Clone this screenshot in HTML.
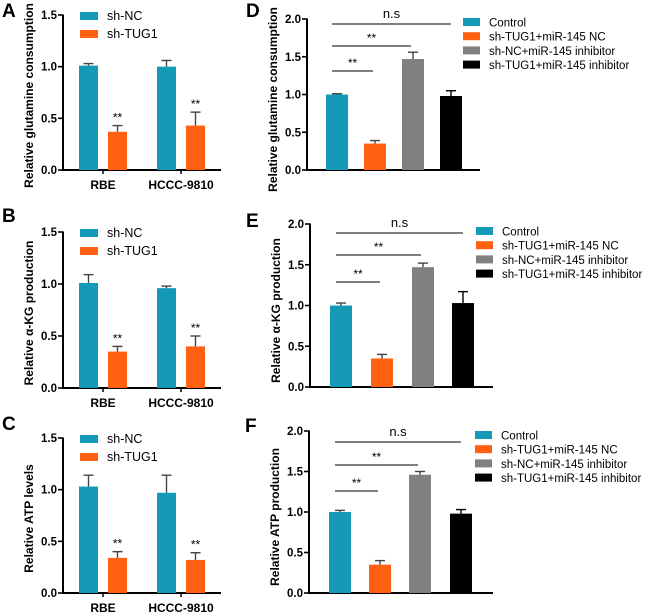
<!DOCTYPE html>
<html><head><meta charset="utf-8">
<style>
html,body{margin:0;padding:0;background:#fff;}
svg{display:block;font-family:"Liberation Sans",Arial,sans-serif;}
</style></head>
<body>
<svg id="fig" width="650" height="612" viewBox="0 0 650 612"></svg>
<script>
// ---- data ----
const leftCategories = ["RBE", "HCCC-9810"];
const leftSeries = ["sh-NC", "sh-TUG1"];
const aNC = [1.01, 1.00], aNCerr = [0.02, 0.06];
const aTUG = [0.37, 0.43], aTUGerr = [0.06, 0.13];
const bNC = [1.01, 0.96], bNCerr = [0.08, 0.02];
const bTUG = [0.35, 0.40], bTUGerr = [0.05, 0.10];
const cNC = [1.03, 0.97], cNCerr = [0.11, 0.17];
const cTUG = [0.34, 0.32], cTUGerr = [0.06, 0.07];
const leftTicks = ["0.0", "0.5", "1.0", "1.5"];
const rightGroups = ["Control", "sh-TUG1+miR-145 NC", "sh-NC+miR-145 inhibitor", "sh-TUG1+miR-145 inhibitor"];
const dVals = [1.00, 0.35, 1.47, 0.98], dErr = [0.01, 0.04, 0.09, 0.07];
const eVals = [1.00, 0.35, 1.47, 1.03], eErr = [0.03, 0.05, 0.05, 0.14];
const fVals = [1.00, 0.35, 1.46, 0.98], fErr = [0.02, 0.05, 0.04, 0.05];
const rightTicks = ["0.0", "0.5", "1.0", "1.5", "2.0"];
const sigLabels = ["**", "**", "n.s"];
const sigTargets = [1, 2, 3];

const NS = "http://www.w3.org/2000/svg";
const svg = document.getElementById("fig");
const TEAL = "#1499b6", ORANGE = "#ff6011", GRAY = "#808080", BLACK = "#000";
function el(tag, attrs, parent) {
  const e = document.createElementNS(NS, tag);
  for (const k in attrs) e.setAttribute(k, attrs[k]);
  (parent || svg).appendChild(e);
  return e;
}
function txt(s, attrs, parent) { const t = el("text", attrs, parent); t.textContent = s; return t; }

function yAxis(g, x0, y0, yTop, max, ticks) {
  const ys = v => y0 - (v / max) * (y0 - yTop);
  const ax = el("line", {x1: x0, y1: y0 + 0.5, x2: x0, y2: yTop - 0.5, stroke: "#000", "stroke-width": 2}, g);
  
  
  ticks.forEach(t => {
    const y = ys(parseFloat(t));
    el("line", {x1: x0 - 5, y1: y, x2: x0, y2: y, stroke: "#000", "stroke-width": 1.6}, g);
    const tl = txt(t, {x: x0 - 6, y: y + 4, "text-anchor": "end", "font-size": 11.5, "font-weight": "bold"}, g);
    
    
  });
  return ys;
}
function bar(g, x, w, v, err, ys, color, name) {
  const y0 = ys(0), y = ys(v);
  const eTop = ys(v + err), cx = x + w / 2;
  const ec = color === BLACK ? "#000" : "#444";
  el("line", {x1: cx, y1: y, x2: cx, y2: eTop, stroke: ec, "stroke-width": 1.4}, g);
  el("line", {x1: cx - 5, y1: eTop, x2: cx + 5, y2: eTop, stroke: ec, "stroke-width": 1.4}, g);
  const r = el("rect", {x: x, y: y, width: w, height: y0 - y, fill: color}, g);
  
  
}
function letter(s, x, y) {
  const t = txt(s, {x: x, y: y, "font-size": 19, "font-weight": "bold"});
  
  
}
function yTitle(g, s, x, y) {
  const t = txt(s, {x: 0, y: 0, transform: `translate(${x},${y}) rotate(-90)`, "text-anchor": "middle", "font-size": 12, "font-weight": "bold"}, g);
  
  
}

function leftPanel(key, y0, yTop, title, nc, ncE, tug, tugE) {
  const g = el("g", {});
  
  
  const x0 = 63;
  const ys = yAxis(g, x0, y0, yTop, 1.5, leftTicks);
  const xa = el("line", {x1: x0 - 1, y1: y0, x2: 221, y2: y0, stroke: "#000", "stroke-width": 2}, g);
  
  
  const groupX = [79, 157];
  leftCategories.forEach((c, i) => {
    bar(g, groupX[i], 19, nc[i], ncE[i], ys, TEAL, 'bar-sh-nc-' + c.toLowerCase());
    bar(g, groupX[i] + 29, 19, tug[i], tugE[i], ys, ORANGE, 'bar-sh-tug1-' + c.toLowerCase());
    const cx = groupX[i] + 24;
    el("line", {x1: cx, y1: y0, x2: cx, y2: y0 + 4, stroke: "#000", "stroke-width": 1.5}, g);
    const l = txt(c, {x: cx, y: y0 + 19, "text-anchor": "middle", "font-size": 12, "font-weight": "bold"}, g);
    
    
    const st = txt("**", {x: groupX[i] + 38.5, y: ys(tug[i] + tugE[i]) - 4, "text-anchor": "middle", "font-size": 12}, g);
    
    
  });
  const lg = el("g", {}, g);
  
  
  [TEAL, ORANGE].forEach((col, i) => {
    const ly = yTop - 3 + i * 18;
    el("rect", {x: 80, y: ly, width: 18, height: 8, fill: col}, lg);
    const t = txt(leftSeries[i], {x: 107, y: ly + 8, "font-size": 12.5}, lg);
    
    
  });
  yTitle(g, title, 33, (y0 + yTop) / 2 + 3);
}

function rightPanel(key, x0, y0, yTop, xEnd, barX, title, vals, errs, sigY, legX, legY, titleX) {
  const g = el("g", {});
  
  
  const ys = yAxis(g, x0, y0, yTop, 2.0, rightTicks);
  const xa = el("line", {x1: x0 - 1, y1: y0, x2: xEnd, y2: y0, stroke: "#000", "stroke-width": 2}, g);
  
  
  const cols = [TEAL, ORANGE, GRAY, BLACK];
  const bw = 22;
  rightGroups.forEach((n, i) => {
    bar(g, barX[i], bw, vals[i], errs[i], ys, cols[i], 'bar-' + i);
  });
  // significance lines
  sigTargets.forEach((t, k) => {
    const x1 = barX[0] + 6, x2 = barX[t] + bw / 2 + (t === 3 ? 0 : -2);
    const y = sigY[k];
    const ln = el("line", {x1: x1, y1: y, x2: x2, y2: y, stroke: "#555", "stroke-width": 1.4}, g);
    
    
    const lt = txt(sigLabels[k], {x: (x1 + x2) / 2, y: y - (k === 2 ? 6 : 4), "text-anchor": "middle", "font-size": k === 2 ? 13 : 12}, g);
    
    
  });
  const lg = el("g", {}, g);
  
  
  rightGroups.forEach((n, i) => {
    const ly = legY + i * 14.2;
    el("rect", {x: legX, y: ly - 4, width: 17, height: 8, fill: cols[i]}, lg);
    const t = txt(n, {x: legX + 26, y: ly + 4.5, "font-size": 11.5}, lg);
    
    
  });
  yTitle(g, title, titleX, (y0 + yTop) / 2 + 5);
}

letter("A", 2, 17); letter("B", 2, 222); letter("C", 2, 430);
letter("D", 246, 17); letter("E", 246, 227); letter("F", 245, 432);

leftPanel("a", 170, 15, "Relative glutamine consumption", aNC, aNCerr, aTUG, aTUGerr);
leftPanel("b", 388, 232, "Relative α-KG production", bNC, bNCerr, bTUG, bTUGerr);
leftPanel("c", 593, 438, "Relative ATP levels", cNC, cNCerr, cTUG, cTUGerr);

rightPanel("d", 307, 170, 19, 480, [326, 364, 402, 440], "Relative glutamine consumption", dVals, dErr, [71, 46, 24], 463, 22, 277);
rightPanel("e", 310, 387, 224, 493, [330, 371, 412, 452], "Relative α-KG production", eVals, eErr, [282, 255, 233], 476, 231, 280);
rightPanel("f", 309, 593, 431, 493, [329, 369, 409, 450], "Relative ATP production", fVals, fErr, [491, 465, 442], 475, 435, 279);
</script>
</body></html>
